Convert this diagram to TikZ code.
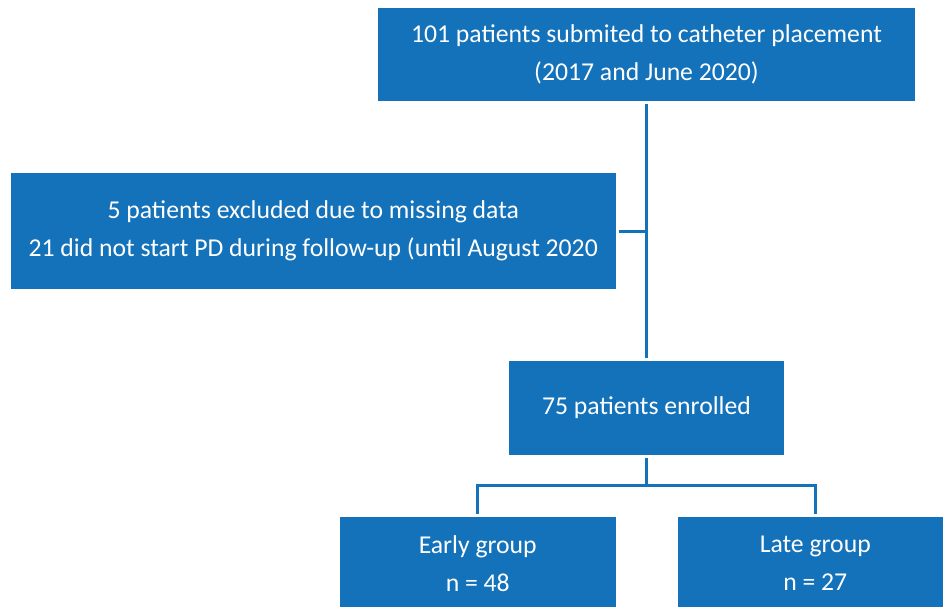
\documentclass[tikz,border=0pt]{standalone}
\usepackage{fontspec}
\setmainfont{Carlito}
\definecolor{boxblue}{RGB}{19,114,185}
\tikzset{
  flowbox/.style={rectangle, fill=boxblue, text=white, align=center, inner sep=0pt,
    font=\fontsize{25.7}{38.5}\selectfont},
  conn/.style={draw=boxblue, line width=3pt, shorten <=3pt, shorten >=3pt}
}
\begin{document}
\begin{tikzpicture}[x=1pt,y=-1pt]
\useasboundingbox (0,0) rectangle (943,607);
\node[flowbox, minimum width=537pt, minimum height=93pt] (top) at (646.5,54.5)
  {101 patients submited to catheter placement\\(2017 and June 2020)};
\node[flowbox, minimum width=604.5pt, minimum height=116pt] (excl) at (313.25,231)
  {5 patients excluded due to missing data\\21 did not start PD during follow-up (until August 2020};
\node[flowbox, minimum width=275pt, minimum height=94pt] (mid) at (646.5,408)
  {75 patients enrolled};
\node[flowbox, minimum width=275.5pt, minimum height=93pt] (early) at (477.75,563.5)
  {Early group\\n = 48};
\node[flowbox, minimum width=275.5pt, minimum height=93pt] (late) at (815.25,563.5)
  {Late group\\n = 27};
\coordinate (split) at (646.5,485.5);
\draw[conn] (top.south) -- (mid.north);
\draw[conn, shorten >=0pt] (excl.east) -- (excl.east -| top.south);
\draw[conn, shorten >=0pt] (mid.south) -- (split);
\draw[conn, shorten <=0pt] (split) -| (early.north);
\draw[conn, shorten <=0pt] (split) -| (late.north);
\end{tikzpicture}
\end{document}
